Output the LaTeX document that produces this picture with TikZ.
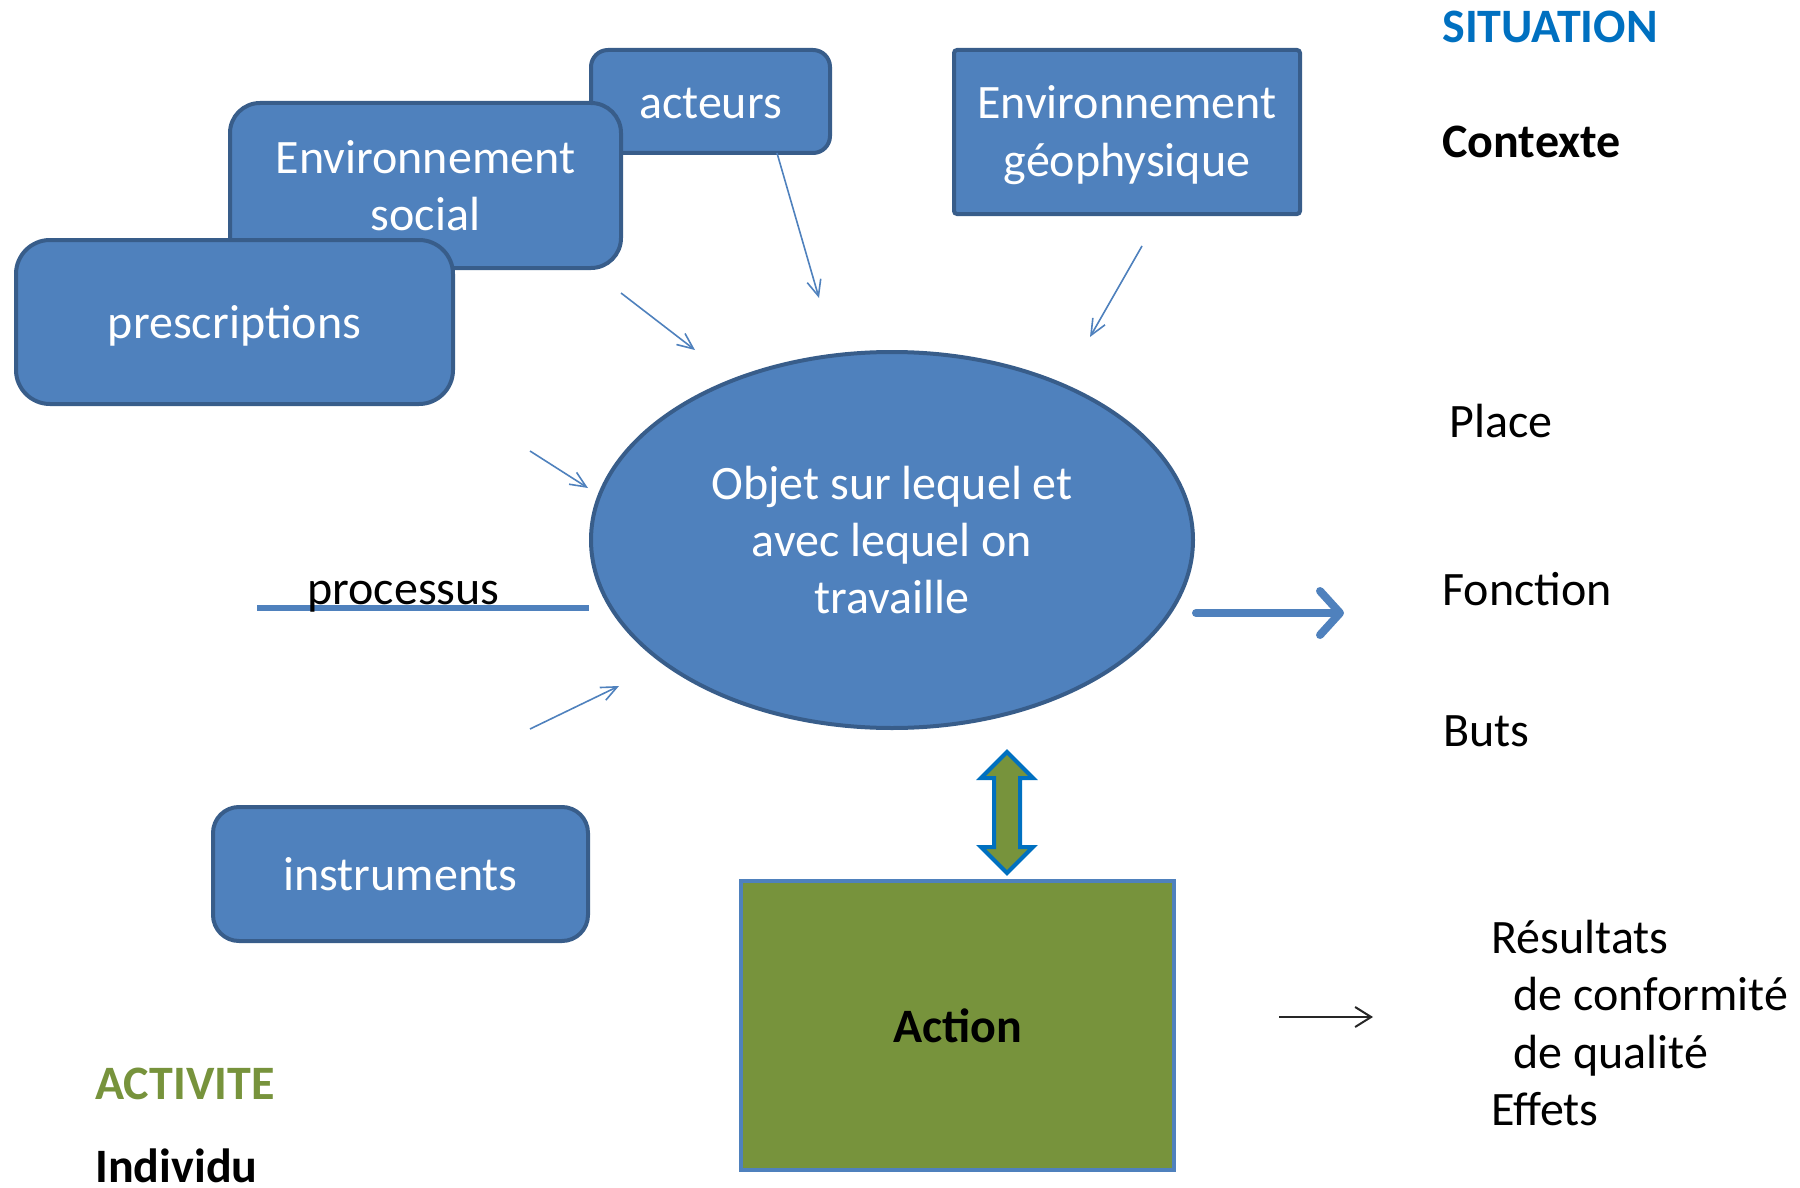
\documentclass[tikz,border=0pt]{standalone}
\usepackage{fontspec}
\setmainfont{Carlito}
\usetikzlibrary{arrows.meta,shapes.geometric}
\definecolor{boxblue}{HTML}{4F81BD}
\definecolor{boxborder}{HTML}{385D8A}
\definecolor{situblue}{HTML}{0070C0}
\definecolor{actgreen}{HTML}{77933C}
\newcommand\diagfont{\fontsize{24}{28.7}\selectfont}
\newcommand\lowerby[2]{\raisebox{-#1}[\height][\depth]{#2}}
\begin{document}
\begin{tikzpicture}[x=0.5pt,y=-0.5pt,
  bluebox/.style={draw=boxborder, line width=2pt, fill=boxblue, text=white,
    font=\diagfont, align=center, inner sep=0pt, rectangle},
  thinarrow/.style={draw=boxblue, line width=0.8pt, -{Straight Barb[length=8pt,width=7pt]}},
  lbl/.style={anchor=base west, inner sep=0pt, font=\diagfont}
]
\useasboundingbox (0,0) rectangle (1800,1188);

% boxes (back to front)
\node[bluebox, rounded corners=8.5pt, minimum width=119.5pt, minimum height=51.5pt] (acteurs) at (710.5,101.5) {\lowerby{1.2pt}{acteurs}};
\node[bluebox, rounded corners=15pt, minimum width=195.5pt, minimum height=82.5pt] (envsoc) at (425.5,185.5) {Environnement\\social};
\node[bluebox, rounded corners=17pt, minimum width=218.5pt, minimum height=82pt] (prescr) at (234.5,322) {\lowerby{1.7pt}{prescriptions}};
\node[bluebox, rounded corners=1.5pt, minimum width=173pt, minimum height=82pt] (envgeo) at (1127,132) {\lowerby{1.2pt}{Environnement}\\\lowerby{1.7pt}{géophysique}};
\node[bluebox, rounded corners=13pt, minimum width=187.5pt, minimum height=67pt] (instr) at (400.5,874) {instruments};
\node[bluebox, ellipse, minimum width=301pt, minimum height=188pt] (objet) at (892,540) {Objet sur lequel et\\avec lequel on\\travaille};
\node[draw=boxblue, line width=2pt, fill=actgreen, rectangle, inner sep=0pt,
  minimum width=216.5pt, minimum height=144.5pt, font=\diagfont\bfseries] (action) at (957.5,1025.5) {Action};

% double arrow between object and action
\filldraw[draw=situblue, line width=2pt, fill=actgreen, line join=miter]
  (1007,752) -- (1033,778) -- (1020,778) -- (1020,847) -- (1033,847) -- (1007,873)
  -- (981,847) -- (994,847) -- (994,778) -- (981,778) -- cycle;

% processus line
\coordinate (procL) at (257,608);
\draw[boxblue, line width=3pt] (procL) -- (objet.west |- procL);
\node[lbl] (proc) at (307,604) {processus};

% thin arrows
\coordinate (a1s) at (777,153); \coordinate (a1e) at (819,298);
\coordinate (a2s) at (621,293); \coordinate (a2e) at (695,350);
\coordinate (a3s) at (1142,246); \coordinate (a3e) at (1090,337);
\coordinate (a4s) at (530,451); \coordinate (a4e) at (588,488);
\coordinate (a5s) at (530,729); \coordinate (a5e) at (619,686);
\draw[thinarrow] (a1s) -- (a1e);
\draw[thinarrow] (a2s) -- (a2e);
\draw[thinarrow] (a3s) -- (a3e);
\draw[thinarrow] (a4s) -- (a4e);
\draw[thinarrow] (a5s) -- (a5e);

% thick output arrow
\coordinate (outE) at (1344,613);
\draw[boxblue, line width=4pt, line cap=round, -{Straight Barb[length=10pt,width=22pt,round]}] (objet.east |- outE) ++(1,0) -- (outE);

% black arrow
\coordinate (bS) at (1279,1017); \coordinate (bE) at (1373,1017);
\draw[black!85, line width=1pt, -{Straight Barb[length=8pt,width=10pt]}] (bS) -- (bE);

% labels right
\node[lbl, text=situblue, font=\diagfont\bfseries] (situation) at (1442,43) {SITUATION};
\node[lbl, font=\diagfont\bfseries] (contexte) at (1442,158) {Contexte};
\node[lbl] (place) at (1449,437) {Place};
\node[lbl] (fonction) at (1442,605) {Fonction};
\node[lbl] (buts) at (1443,746) {Buts};
\node[lbl] (res) at (1491,953) {Résultats};
\node[lbl] (conf) at (1513,1010) {de conformité};
\node[lbl] (qual) at (1513,1068) {de qualité};
\node[lbl] (effets) at (1491,1125) {Effets};
\node[lbl, text=actgreen, font=\diagfont\bfseries] (activite) at (95,1099) {ACTIVITE};
\node[lbl, font=\diagfont\bfseries] (individu) at (95,1182) {Individu};
\end{tikzpicture}
\end{document}
